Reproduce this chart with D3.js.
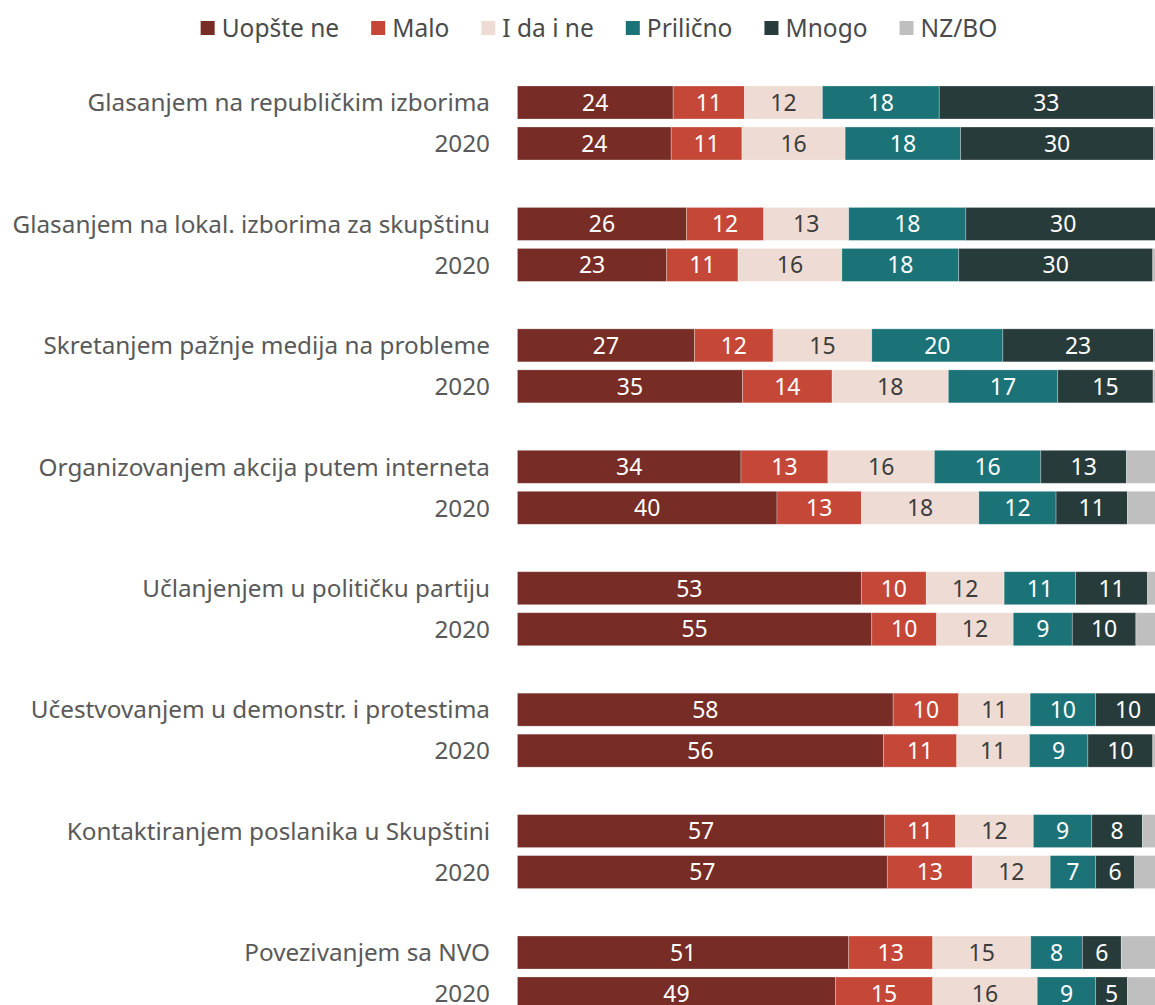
<!DOCTYPE html>
<html>
<head>
<meta charset="utf-8">
<script src="https://cdn.jsdelivr.net/npm/d3@7"></script>
<style>
  body { margin: 0; background: #fff; }
  svg { display: block; font-family: "Noto Sans", sans-serif; }
</style>
</head>
<body>
<div id="container"></div>
<script>
// questions (each one has a current row and a 2020 row)
const questions = [
  "Glasanjem na republičkim izborima",
  "Glasanjem na lokal. izborima za skupštinu",
  "Skretanjem pažnje medija na probleme",
  "Organizovanjem akcija putem interneta",
  "Učlanjenjem u političku partiju",
  "Učestvovanjem u demonstr. i protestima",
  "Kontaktiranjem poslanika u Skupštini",
  "Povezivanjem sa NVO"
];
const years = ["current", "2020"];

const categories = ["Uopšte ne", "Malo", "I da i ne", "Prilično", "Mnogo", "NZ/BO"];
const colors = ["#772d26", "#c44738", "#eedcd4", "#1b7378", "#283b3b", "#bfbfbf"];

// one value per row, rows ordered: question 1 current, question 1 2020, question 2 current, ...
const uopsteNe = [24.0, 23.7, 26.05, 23.0, 27.3, 34.7, 34.45, 40.0, 53.0, 54.6, 57.9, 56.4, 56.6, 57.0, 51.05, 49.0];
const malo     = [11.0, 10.9, 11.9, 11.0, 12.1, 13.8, 13.4, 13.0, 10.0, 10.0, 10.1, 11.3, 10.9, 13.1, 12.95, 15.0];
const idaIne   = [12.0, 15.9, 13.1, 16.0, 15.2, 17.9, 16.4, 18.1, 12.0, 11.8, 11.0, 11.2, 12.0, 12.0, 15.1, 16.1];
const prilicno = [18.0, 17.8, 18.05, 18.0, 20.2, 16.85, 16.4, 11.9, 11.0, 9.1, 10.1, 9.0, 9.0, 7.0, 7.95, 9.0];
const mnogo    = [33.0, 29.7, 30.0, 29.9, 23.2, 14.7, 13.2, 11.0, 11.1, 9.8, 10.0, 10.0, 7.8, 6.0, 6.0, 4.9];
const nzbo     = [2.0, 2.0, 0.9, 2.1, 2.0, 2.05, 6.1, 6.0, 2.9, 4.7, 0.9, 2.1, 3.7, 4.9, 6.95, 6.0];

const series = [uopsteNe, malo, idaIne, prilicno, mnogo, nzbo];

const rows = [];
questions.forEach((q, qi) => {
  years.forEach((yr, yi) => {
    const i = qi * 2 + yi;
    const row = { question: q, year: yr, label: yi === 0 ? q : "2020" };
    categories.forEach((c, ci) => { row[c] = series[ci][i]; });
    rows.push(row);
  });
});

const W = 1155, H = 1005;

const svg = d3.select("#container")
  .append("svg")
  .attr("width", W)
  .attr("height", H);

// scales
const x = d3.scaleLinear().domain([0, 100]).range([517.4, 1166.4]);

const groupY = d3.scaleBand()
  .domain(questions)
  .range([86, 86 + 121.43 * questions.length]);

const rowY = d3.scaleBand()
  .domain(years)
  .range([0, 74])
  .paddingInner(0.195);

const color = d3.scaleOrdinal().domain(categories).range(colors);

const stack = d3.stack().keys(categories);
const stacked = stack(rows);

const rowTop = d => groupY(d.question) + rowY(d.year);

// bars
const layers = svg.append("g")
  .selectAll("g")
  .data(stacked)
  .join("g")
  .attr("fill", s => color(s.key));

layers.selectAll("rect")
  .data(s => s.map(p => Object.assign(p, { key: s.key })))
  .join("rect")
  .attr("x", p => x(p[0]))
  .attr("y", p => rowTop(p.data))
  .attr("width", p => x(p[1]) - x(p[0]))
  .attr("height", rowY.bandwidth())
  .attr("stroke", "rgba(255,255,255,0.35)")
  .attr("stroke-width", 0.8);

// value labels
const darkText = new Set(["I da i ne"]);
layers.selectAll("text")
  .data(s => s.key === "NZ/BO" ? [] : s)
  .join("text")
  .attr("x", p => (x(p[0]) + x(p[1])) / 2)
  .attr("y", p => rowTop(p.data) + rowY.bandwidth() / 2)
  .attr("dy", "0.36em")
  .attr("text-anchor", "middle")
  .attr("font-size", 23)
  .attr("fill", p => darkText.has(p.key) ? "#3c3c3c" : "#ffffff")
  .text(p => d3.format(".0f")(p[1] - p[0]));

// row labels
svg.append("g")
  .selectAll("text")
  .data(rows)
  .join("text")
  .attr("x", 490)
  .attr("y", d => rowTop(d) + rowY.bandwidth() / 2)
  .attr("dy", "0.36em")
  .attr("text-anchor", "end")
  .attr("font-size", 24.3)
  .attr("fill", "#595959")
  .text(d => d.label);

// legend
const legend = svg.append("g").attr("transform", "translate(0,28)");
const items = legend.selectAll("g")
  .data(categories)
  .join("g");

items.append("rect")
  .attr("x", 0)
  .attr("y", -7)
  .attr("width", 14)
  .attr("height", 14)
  .attr("fill", d => color(d));

items.append("text")
  .attr("x", 21)
  .attr("dy", "0.36em")
  .attr("font-size", 24.5)
  .attr("fill", "#4a4a4a")
  .text(d => d);

let cursor = 0;
const offsets = [];
items.each(function () {
  offsets.push(cursor);
  const w = 21 + this.querySelector("text").getComputedTextLength();
  cursor += w + 32;
});
const total = cursor - 32;
const start = 599 - total / 2;
items.attr("transform", (d, i) => `translate(${start + offsets[i]},0)`);
</script>
</body>
</html>
